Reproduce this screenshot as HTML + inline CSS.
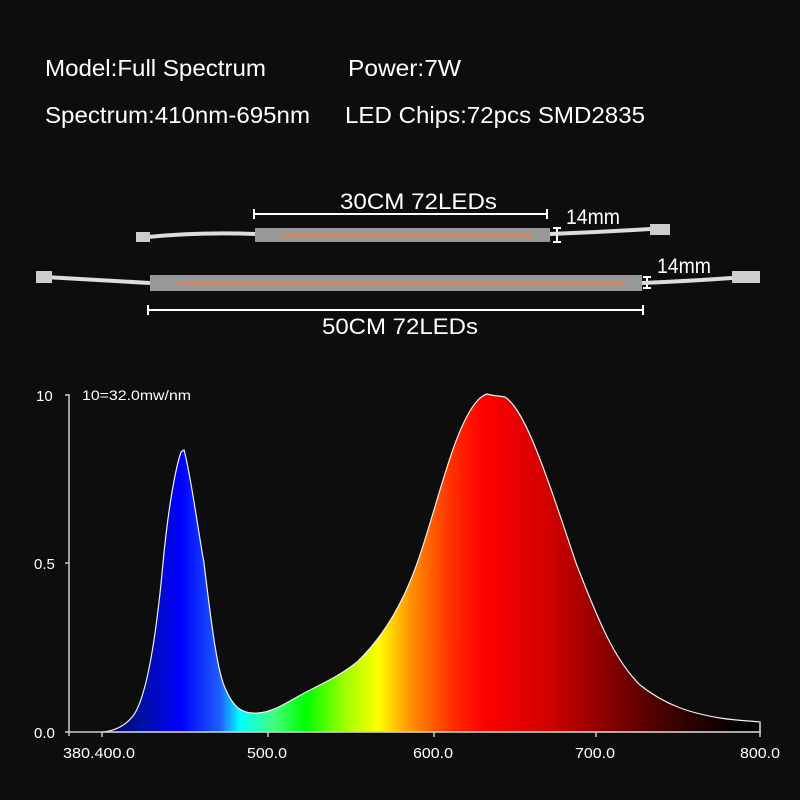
<!DOCTYPE html>
<html><head><meta charset="utf-8"><style>
body{margin:0;background:#0d0d0d;width:800px;height:800px;overflow:hidden;font-family:"Liberation Sans",sans-serif;}
svg{display:block}
</style></head><body>
<svg width="800" height="800" viewBox="0 0 800 800" xmlns="http://www.w3.org/2000/svg">
<rect width="800" height="800" fill="#0d0d0d"/>
<g fill="#fff" font-family="Liberation Sans, sans-serif" font-size="23">
<text x="45" y="76" textLength="221" lengthAdjust="spacingAndGlyphs">Model:Full Spectrum</text>
<text x="348" y="76" textLength="113" lengthAdjust="spacingAndGlyphs">Power:7W</text>
<text x="45" y="123" textLength="265" lengthAdjust="spacingAndGlyphs">Spectrum:410nm-695nm</text>
<text x="345" y="123" textLength="300" lengthAdjust="spacingAndGlyphs">LED Chips:72pcs SMD2835</text>
</g>
<g>
<text x="340" y="209" fill="#fff" font-size="22" textLength="157" lengthAdjust="spacingAndGlyphs">30CM 72LEDs</text>
<line x1="254" y1="214" x2="547" y2="214" stroke="#fff" stroke-width="2"/>
<line x1="254" y1="209" x2="254" y2="219" stroke="#fff" stroke-width="2"/>
<line x1="547" y1="209" x2="547" y2="219" stroke="#fff" stroke-width="2"/>
<text x="566" y="224" fill="#fff" font-size="21" textLength="54" lengthAdjust="spacingAndGlyphs">14mm</text>
<path d="M553 228 H561 M557 228 V242 M553 242 H561" stroke="#fff" stroke-width="2" fill="none"/>
<path d="M148 237 Q200 232 255 234" stroke="#ddd" stroke-width="4" fill="none"/>
<rect x="136" y="232" width="14" height="10" fill="#ccc"/>
<rect x="255" y="228" width="295" height="14" fill="#bbb" opacity="0.8"/>
<rect x="282" y="233" width="250" height="4" fill="#c98a6a"/>
<path d="M550 234 Q600 232 650 229" stroke="#ddd" stroke-width="4" fill="none"/>
<rect x="650" y="224" width="20" height="11" fill="#ccc"/>
<text x="657" y="273" fill="#fff" font-size="21" textLength="54" lengthAdjust="spacingAndGlyphs">14mm</text>
<path d="M643 277 H651 M647 277 V288 M643 288 H651" stroke="#fff" stroke-width="2" fill="none"/>
<path d="M45 277 Q100 280 150 283" stroke="#ddd" stroke-width="4" fill="none"/>
<rect x="36" y="271" width="16" height="12" fill="#ccc"/>
<rect x="150" y="275" width="492" height="16" fill="#bbb" opacity="0.8"/>
<rect x="178" y="281" width="448" height="4" fill="#c98a6a"/>
<path d="M642 283 Q690 281 732 278" stroke="#ddd" stroke-width="4" fill="none"/>
<rect x="732" y="271" width="28" height="12" fill="#ccc"/>
<line x1="148" y1="310" x2="643" y2="310" stroke="#fff" stroke-width="2"/>
<line x1="148" y1="305" x2="148" y2="315" stroke="#fff" stroke-width="2"/>
<line x1="643" y1="305" x2="643" y2="315" stroke="#fff" stroke-width="2"/>
<text x="322" y="334" fill="#fff" font-size="22" textLength="156" lengthAdjust="spacingAndGlyphs">50CM 72LEDs</text>
</g>
<defs>
<linearGradient id="sp" gradientUnits="userSpaceOnUse" x1="102" y1="0" x2="760" y2="0">
<stop offset="0" stop-color="#000060"/>
<stop offset="0.06" stop-color="#0010a0"/>
<stop offset="0.12" stop-color="#0000ff"/>
<stop offset="0.18" stop-color="#2060ff"/>
<stop offset="0.21" stop-color="#00ffff"/>
<stop offset="0.26" stop-color="#40ff80"/>
<stop offset="0.31" stop-color="#00ff00"/>
<stop offset="0.37" stop-color="#a0ff00"/>
<stop offset="0.42" stop-color="#ffff00"/>
<stop offset="0.47" stop-color="#ff9000"/>
<stop offset="0.53" stop-color="#ff3000"/>
<stop offset="0.58" stop-color="#ff0000"/>
<stop offset="0.68" stop-color="#d00000"/>
<stop offset="0.76" stop-color="#900000"/>
<stop offset="0.86" stop-color="#400000"/>
<stop offset="0.97" stop-color="#000000"/>
</linearGradient>
</defs>
<path fill="url(#sp)" stroke="#eee" stroke-width="1.2" d="
M102 732 C115 731 125 726 133 716 C145 700 155 650 163 563 C168 510 175 470 181 452 L184 450 C190 470 198 530 204 563 C212 630 218 675 226 690 C234 708 242 714 258 713 C275 712 290 700 310 690 C330 680 345 672 357 662 C385 635 405 600 420 555 C440 495 455 425 478 400 C481 397 484 395 487 394 L491 395 C496 396 500 396 505 397 C525 410 545 470 576 563 C600 625 615 660 640 685 C665 705 690 713 720 718 C740 721 752 721 760 722 L760 732 Z"/>
<g stroke="#ccc" stroke-width="1.5" fill="none">
<line x1="69" y1="394" x2="69" y2="736"/>
<line x1="69" y1="732" x2="761" y2="732"/>
<line x1="65" y1="395" x2="69" y2="395"/>
<line x1="65" y1="563" x2="69" y2="563"/>
<line x1="65" y1="732" x2="69" y2="732"/>
<line x1="102" y1="732" x2="102" y2="737"/>
<line x1="268" y1="732" x2="268" y2="737"/>
<line x1="434" y1="732" x2="434" y2="737"/>
<line x1="596" y1="732" x2="596" y2="737"/>
<line x1="760" y1="722" x2="760" y2="737"/>
</g>
<g fill="#fff" font-size="15">
<text x="36" y="401">10</text>
<text x="34" y="569">0.5</text>
<text x="34" y="738">0.0</text>
<text x="82" y="400" font-size="14" textLength="109" lengthAdjust="spacingAndGlyphs">10=32.0mw/nm</text>
<text x="63" y="758" textLength="72" lengthAdjust="spacingAndGlyphs">380.400.0</text>
<text x="247" y="758" textLength="40" lengthAdjust="spacingAndGlyphs">500.0</text>
<text x="413" y="758" textLength="40" lengthAdjust="spacingAndGlyphs">600.0</text>
<text x="575" y="758" textLength="40" lengthAdjust="spacingAndGlyphs">700.0</text>
<text x="740" y="758" textLength="40" lengthAdjust="spacingAndGlyphs">800.0</text>
</g>
</svg>
</body></html>
